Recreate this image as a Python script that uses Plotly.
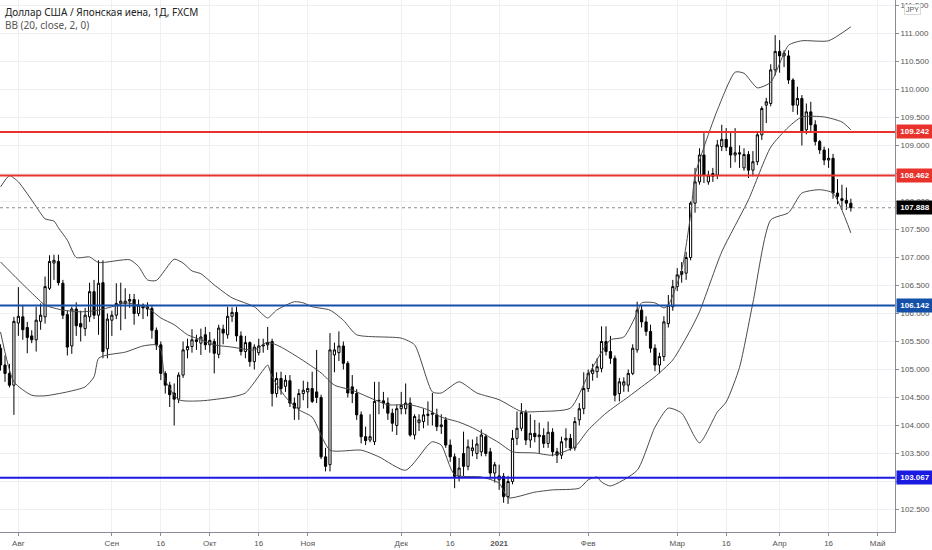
import pandas as pd
import plotly.graph_objects as go

# trading calendar (FXCM daily, no bars on Dec 25 / Jan 1)
holidays = ["2020-12-25", "2021-01-01"]
dates = pd.bdate_range("2020-07-28", "2021-04-23")
dates = dates[~dates.isin(pd.to_datetime(holidays))]

opens = [
    105.38, 105.08, 104.93, 104.72, 105.83, 105.94, 105.75, 105.60, 105.53, 105.86,
    105.94, 106.45, 106.90, 106.93, 106.54, 105.98, 105.42, 106.08, 105.82, 105.73,
    105.94, 106.39, 105.97, 106.55, 105.37, 105.88, 105.97, 106.18, 106.18, 106.22,
    106.25, 106.00, 106.15, 106.12, 106.09, 105.70, 105.44, 104.93, 104.72, 104.58,
    104.47, 104.90, 105.35, 105.41, 105.53, 105.47, 105.62, 105.44, 105.50, 105.27,
    105.72, 105.62, 105.95, 106.02, 105.60, 105.32, 105.48, 105.14, 105.30, 105.42,
    105.44, 105.50, 104.57, 104.84, 104.70, 104.80, 104.40, 104.31, 104.57, 104.60,
    104.66, 104.60, 104.50, 103.44, 103.30, 105.26, 105.30, 105.42, 105.11, 104.69,
    104.57, 104.19, 103.80, 103.74, 103.71, 104.45, 104.44, 104.40, 104.22, 104.00,
    104.30, 104.30, 104.40, 103.83, 104.05, 104.07, 104.18, 104.20, 104.19, 103.98,
    104.10, 103.65, 103.44, 103.09, 103.50, 103.27, 103.55, 103.50, 103.53, 103.80,
    103.53, 103.15, 103.03, 103.09, 102.73, 103.00, 103.77, 103.95, 104.23, 103.74,
    103.86, 103.80, 103.82, 103.68, 103.88, 103.53, 103.47, 103.74, 103.77, 103.60,
    104.10, 104.30, 104.66, 104.93, 104.96, 105.02, 105.50, 105.32, 105.20, 104.57,
    104.72, 104.72, 104.93, 105.35, 106.06, 105.85, 105.68, 105.38, 105.08, 105.23,
    105.82, 106.12, 106.48, 106.75, 106.72, 107.00, 107.97, 108.35, 108.83, 108.35,
    108.45, 108.47, 108.98, 109.11, 108.97, 108.83, 108.87, 108.60, 108.84, 108.56,
    108.71, 109.19, 109.72, 109.75, 110.35, 110.68, 110.60, 110.60, 110.17, 109.72,
    109.84, 109.28, 109.60, 109.37, 109.07, 108.92, 108.74, 108.77, 108.15, 108.05,
    108.02, 107.97,
]
highs = [
    105.45, 105.25, 105.10, 105.94, 106.47, 106.15, 105.85, 105.70, 106.12, 106.18,
    106.66, 107.04, 107.05, 107.05, 106.60, 106.05, 106.12, 106.20, 106.05, 106.10,
    106.55, 106.60, 106.95, 106.95, 106.00, 106.05, 106.54, 106.55, 106.45, 106.35,
    106.35, 106.25, 106.18, 106.20, 106.15, 105.75, 105.50, 104.97, 104.78, 104.75,
    104.95, 105.50, 105.55, 105.72, 105.62, 105.73, 105.76, 105.67, 105.55, 105.80,
    105.80, 106.12, 106.11, 106.12, 105.68, 105.60, 105.50, 105.45, 105.55, 105.55,
    105.76, 105.55, 104.95, 104.96, 104.90, 104.90, 104.50, 104.65, 104.80, 104.78,
    104.96, 105.35, 104.55, 103.60, 105.65, 105.48, 105.68, 105.50, 105.15, 104.90,
    104.65, 104.25, 103.98, 104.20, 104.78, 104.78, 104.60, 104.50, 104.30, 104.37,
    104.60, 104.75, 104.50, 104.20, 104.20, 104.30, 104.43, 104.58, 104.30, 104.20,
    104.15, 103.75, 103.50, 103.42, 103.89, 103.75, 103.75, 103.80, 103.93, 103.85,
    103.60, 103.35, 103.30, 103.15, 103.10, 103.92, 104.25, 104.40, 104.28, 104.20,
    104.10, 104.05, 103.95, 104.07, 103.95, 103.60, 103.80, 103.95, 103.85, 104.15,
    104.40, 104.95, 105.00, 105.10, 105.20, 105.77, 105.77, 105.60, 105.25, 104.85,
    104.86, 105.00, 105.45, 106.21, 106.15, 105.95, 105.80, 105.45, 105.30, 105.95,
    106.33, 106.60, 106.81, 106.92, 107.10, 108.00, 108.60, 108.95, 109.22, 108.55,
    108.60, 109.10, 109.37, 109.31, 109.25, 109.31, 109.00, 108.95, 108.90, 108.90,
    109.25, 109.70, 109.85, 110.45, 110.97, 110.88, 110.70, 110.70, 110.20, 110.05,
    109.90, 109.75, 109.78, 109.45, 109.10, 108.98, 108.95, 108.85, 108.40, 108.30,
    108.25, 108.05,
]
lows = [
    104.98, 104.78, 104.68, 104.19, 105.60, 105.53, 105.29, 105.47, 105.32, 105.71,
    105.82, 106.42, 106.60, 106.50, 105.90, 105.25, 105.28, 105.60, 105.50, 105.60,
    105.85, 105.90, 105.62, 105.20, 105.20, 105.60, 105.90, 105.70, 105.90, 106.10,
    105.80, 105.95, 105.90, 105.95, 105.55, 105.35, 104.81, 104.57, 104.33, 104.00,
    104.40, 104.85, 105.20, 105.30, 105.35, 105.26, 105.35, 105.30, 104.93, 105.20,
    105.45, 105.55, 105.85, 105.50, 105.25, 105.20, 105.05, 105.00, 105.25, 105.30,
    105.35, 104.34, 104.50, 104.55, 104.60, 104.33, 104.10, 104.10, 104.45, 104.31,
    104.40, 104.40, 103.40, 103.18, 103.18, 104.95, 105.15, 105.00, 104.50, 104.40,
    104.10, 103.68, 103.65, 103.70, 103.65, 104.20, 104.30, 104.10, 103.89, 103.83,
    104.20, 104.20, 103.80, 103.75, 103.90, 103.95, 104.00, 104.00, 103.90, 103.85,
    103.60, 103.35, 102.88, 103.00, 103.10, 103.20, 103.45, 103.40, 103.45, 103.45,
    103.05, 102.98, 102.85, 102.62, 102.60, 102.95, 103.65, 103.90, 103.65, 103.60,
    103.70, 103.50, 103.60, 103.60, 103.45, 103.33, 103.40, 103.60, 103.55, 103.55,
    104.00, 104.20, 104.60, 104.80, 104.85, 104.95, 105.25, 105.10, 104.43, 104.43,
    104.60, 104.60, 104.90, 105.30, 105.75, 105.60, 105.30, 104.97, 104.93, 105.15,
    105.75, 106.05, 106.40, 106.55, 106.60, 106.95, 107.80, 108.30, 108.33, 108.30,
    108.35, 108.40, 108.90, 108.90, 108.60, 108.70, 108.60, 108.55, 108.42, 108.45,
    108.65, 109.10, 109.40, 109.70, 110.25, 110.30, 110.40, 110.10, 109.60, 109.55,
    109.00, 109.20, 109.25, 109.00, 108.85, 108.65, 108.60, 108.05, 107.95, 107.85,
    107.85, 107.82,
]
closes = [
    105.08, 104.93, 104.72, 105.86, 105.95, 105.71, 105.57, 105.53, 105.88, 105.97,
    106.48, 106.93, 106.95, 106.55, 105.97, 105.40, 106.08, 105.78, 105.76, 105.97,
    106.39, 105.97, 106.54, 105.32, 105.90, 105.97, 106.18, 106.22, 106.22, 106.25,
    106.00, 106.15, 106.10, 106.08, 105.70, 105.44, 104.93, 104.72, 104.55, 104.47,
    104.90, 105.35, 105.41, 105.53, 105.50, 105.58, 105.44, 105.52, 105.29, 105.74,
    105.65, 105.95, 106.02, 105.60, 105.32, 105.48, 105.14, 105.40, 105.42, 105.44,
    105.48, 104.57, 104.84, 104.66, 104.81, 104.40, 104.31, 104.57, 104.63, 104.66,
    104.43, 104.50, 103.44, 103.27, 105.35, 105.35, 105.42, 105.11, 104.58, 104.57,
    104.19, 103.80, 103.73, 103.80, 104.43, 104.44, 104.40, 104.22, 104.04, 104.30,
    104.36, 104.40, 103.83, 104.16, 104.10, 104.19, 104.20, 104.22, 103.98, 104.01,
    103.65, 103.44, 103.09, 103.24, 103.27, 103.62, 103.60, 103.67, 103.83, 103.50,
    103.15, 103.30, 103.10, 102.73, 103.00, 103.77, 103.95, 104.23, 103.74, 103.86,
    103.80, 103.83, 103.68, 103.88, 103.53, 103.47, 103.71, 103.77, 103.60, 104.07,
    104.30, 104.66, 104.93, 104.99, 105.05, 105.50, 105.32, 105.20, 104.54, 104.78,
    104.78, 104.93, 105.38, 106.06, 105.85, 105.68, 105.38, 105.08, 105.23, 105.85,
    106.15, 106.48, 106.69, 106.70, 107.00, 107.97, 108.35, 108.83, 108.47, 108.47,
    108.50, 109.01, 109.11, 108.97, 108.83, 108.87, 108.85, 108.84, 108.56, 108.71,
    109.19, 109.66, 109.78, 110.35, 110.68, 110.60, 110.65, 110.17, 109.72, 109.84,
    109.25, 109.60, 109.37, 109.07, 108.92, 108.74, 108.77, 108.15, 108.09, 108.02,
    107.97, 107.888,
]

# Bollinger bands (20, close, 2) at selected bars
upper_idx = [0, 2, 4, 8, 10, 12, 13, 15, 17, 20, 22, 29, 31, 33, 35, 39, 41, 43, 45, 48,
             52, 57, 60, 62, 66, 68, 70, 74, 77, 80, 90, 93, 97, 99, 103, 107, 112, 117,
             121, 128, 132, 135, 137, 140, 143, 144, 147, 149, 150, 153, 155, 156, 158,
             161, 165, 167, 170, 173, 177, 180, 186, 191]
upper_val = [108.26, 108.46, 108.35, 107.91, 107.69, 107.65, 107.53, 107.31, 107.00, 107.01,
             106.91, 106.96, 106.84, 106.60, 106.59, 106.97, 106.90, 106.76, 106.71, 106.51,
             106.28, 106.12, 105.92, 106.06, 106.21, 106.19, 106.12, 106.06, 105.88, 105.62,
             105.56, 105.44, 104.60, 104.58, 104.78, 104.58, 104.46, 104.25, 104.25, 104.31,
             104.90, 105.31, 105.53, 105.58, 106.01, 106.19, 106.19, 106.10, 106.15, 106.78,
             107.76, 108.47, 108.97, 109.63, 110.31, 110.29, 110.03, 110.13, 110.79, 110.87,
             110.87, 111.12]
basis_idx = [0, 4, 8, 10, 14, 18, 22, 25, 28, 33, 36, 39, 42, 45, 48, 52, 57, 60, 63, 67,
             72, 75, 79, 84, 87, 92, 96, 99, 103, 106, 109, 112, 115, 120, 124, 129, 132,
             136, 141, 144, 147, 151, 155, 157, 162, 168, 173, 177, 180, 185, 189, 191]
basis_val = [106.92, 106.60, 106.29, 106.15, 106.06, 106.03, 106.06, 106.12, 106.19, 106.10,
             105.92, 105.80, 105.62, 105.53, 105.44, 105.40, 105.35, 105.49, 105.40, 105.21,
             104.94, 104.72, 104.63, 104.46, 104.37, 104.37, 104.28, 104.15, 104.06, 103.96,
             103.83, 103.69, 103.53, 103.51, 103.47, 103.62, 103.92, 104.22, 104.51, 104.69,
             104.87, 105.17, 105.71, 106.03, 107.10, 108.03, 108.97, 109.33, 109.51, 109.51,
             109.42, 109.28]
lower_idx = [0, 3, 7, 10, 15, 19, 21, 22, 24, 28, 32, 35, 36, 37, 40, 45, 52, 55, 59, 60,
             61, 64, 67, 70, 74, 81, 85, 91, 96, 97, 99, 102, 108, 112, 114, 120, 124, 130,
             132, 134, 135, 137, 143, 147, 150, 153, 157, 161, 163, 166, 169, 173, 177, 180,
             184, 187, 191]
lower_val = [105.67, 104.78, 104.54, 104.53, 104.60, 104.69, 104.87, 105.20, 105.26, 105.31,
             105.42, 105.44, 105.35, 104.81, 104.46, 104.44, 104.51, 104.58, 104.99, 105.08,
             104.87, 104.51, 104.28, 104.15, 103.56, 103.56, 103.44, 103.20, 103.65, 103.71,
             103.65, 103.12, 103.08, 102.97, 102.71, 102.81, 102.85, 102.88, 103.03, 103.08,
             102.99, 102.92, 103.20, 103.97, 104.31, 104.22, 103.69, 104.24, 104.42, 105.04,
             106.19, 107.67, 107.80, 108.15, 108.21, 108.15, 107.44]

# horizontal levels drawn on the chart
levels = [109.242, 108.462, 106.142, 103.067]
level_colors = ["#e8322b", "#e8322b", "#1450a8", "#1a1ae0"]
last_price = 107.888

tick_dates = ["2020-08-03", "2020-09-01", "2020-09-16", "2020-10-01", "2020-10-16",
              "2020-11-02", "2020-12-01", "2020-12-16", "2021-01-04", "2021-02-01",
              "2021-03-01", "2021-03-16", "2021-04-01", "2021-04-16", "2021-05-03"]
tick_text = ["Авг", "Сен", "16", "Окт", "16", "Ноя", "Дек", "16", "<b>2021</b>", "Фев",
             "Мар", "16", "Апр", "16", "Май"]

fig = go.Figure()

band_line = dict(color="#4a4a4a", width=1, shape="spline", smoothing=0.6)
for idx, val in [(upper_idx, upper_val), (basis_idx, basis_val), (lower_idx, lower_val)]:
    fig.add_trace(go.Scatter(x=dates[idx], y=val, mode="lines", line=band_line,
                             hoverinfo="skip", showlegend=False))

fig.add_trace(go.Candlestick(
    x=dates, open=opens, high=highs, low=lows, close=closes,
    increasing=dict(fillcolor="#ffffff", line=dict(color="#000000", width=1)),
    decreasing=dict(fillcolor="#000000", line=dict(color="#000000", width=1)),
    whiskerwidth=0, showlegend=False,
))

label_font = dict(family="Liberation Sans", size=8, color="#ffffff")
for lv, col in zip(levels, level_colors):
    fig.add_shape(type="line", xref="paper", x0=0, x1=1, yref="y", y0=lv, y1=lv,
                  line=dict(color=col, width=2), layer="above")
    fig.add_annotation(xref="paper", x=1, yref="y", y=lv, text=f"<b>{lv:.3f}</b>",
                       xanchor="left", yanchor="middle", xshift=1, showarrow=False,
                       bgcolor=col, borderpad=2, width=32, font=label_font)

fig.add_shape(type="line", xref="paper", x0=0, x1=1, yref="y", y0=last_price, y1=last_price,
              line=dict(color="#8a8a8a", width=1, dash="dot"))
fig.add_annotation(xref="paper", x=1, yref="y", y=last_price, text=f"<b>{last_price:.3f}</b>",
                   xanchor="left", yanchor="middle", xshift=1, showarrow=False,
                   bgcolor="#000000", borderpad=2, width=32, font=label_font)

fig.add_annotation(xref="paper", yref="paper", x=1, y=1, text="JPY", xanchor="left",
                   yanchor="top", xshift=9, yshift=-4, showarrow=False,
                   bgcolor="#ffffff", bordercolor="#d6d8de", borderwidth=1, borderpad=1,
                   font=dict(family="Liberation Sans", size=7, color="#555555"))

fig.add_annotation(xref="paper", yref="paper", x=0, y=1, xanchor="left", yanchor="top",
                   xshift=3, yshift=-3, showarrow=False, align="left",
                   text="Доллар США / Японская иена, 1Д, FXCM",
                   font=dict(family="Noto Sans", size=10, color="#222222"))
fig.add_annotation(xref="paper", yref="paper", x=0, y=1, xanchor="left", yanchor="top",
                   xshift=3, yshift=-16, showarrow=False, align="left",
                   text="BB (20, close, 2, 0)",
                   font=dict(family="Noto Sans", size=10, color="#555555"))

fig.update_layout(
    width=932, height=550,
    margin=dict(l=0, r=37, t=0, b=18),
    paper_bgcolor="#ffffff", plot_bgcolor="#ffffff",
    font=dict(family="Liberation Sans", size=8, color="#555555"),
    xaxis=dict(
        rangeslider=dict(visible=False),
        rangebreaks=[dict(bounds=["sat", "mon"]), dict(values=holidays)],
        range=["2020-07-27 21:00", "2021-05-06 22:00"],
        tickmode="array", tickvals=tick_dates, ticktext=tick_text,
        showgrid=True, gridcolor="#eef0f4", gridwidth=1,
        showline=True, linecolor="#8a8d96", linewidth=1,
        ticks="outside", ticklen=3, tickcolor="#8a8d96",
        zeroline=False, fixedrange=True,
    ),
    yaxis=dict(
        side="right", range=[102.098, 111.598], dtick=0.5, tick0=102.5,
        tickformat=".3f",
        showgrid=True, gridcolor="#eef0f4", gridwidth=1,
        showline=True, linecolor="#8a8d96", linewidth=1,
        ticks="outside", ticklen=3, tickcolor="#8a8d96",
        zeroline=False, fixedrange=True,
    ),
)

fig.write_html("out.html", config={"displayModeBar": False},
               post_script="document.body.style.margin = '0';")
